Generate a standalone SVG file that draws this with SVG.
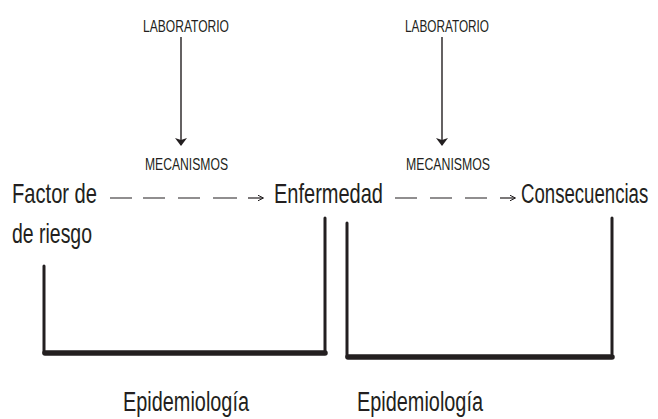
<svg xmlns="http://www.w3.org/2000/svg" width="658" height="419" viewBox="0 0 658 419">
<style>
text{font-family:"Liberation Sans",Arial,sans-serif;fill:#231f20}
.sm{font-size:16.5px}
.lg{font-size:28px}
.ep{font-size:27px}
.dash{stroke:#231f20;stroke-width:1.2;fill:none}
.arr{stroke:#231f20;stroke-width:1.4;fill:none}
.thin{stroke:#231f20;stroke-width:3;fill:none;stroke-linecap:round}
.thick{stroke:#231f20;stroke-width:5.5;fill:none;stroke-linecap:round}
</style>
<defs>
<marker id="ah" markerWidth="8" markerHeight="12" refX="7" refY="6" orient="auto" markerUnits="userSpaceOnUse">
<path d="M0,0 L8,6 L0,12 L2,6 Z" fill="#231f20"/>
</marker>
<marker id="sh" markerWidth="6" markerHeight="6" refX="5.5" refY="3" orient="auto" markerUnits="userSpaceOnUse">
<path d="M0,0 L6,3 L0,6" fill="none" stroke="#231f20" stroke-width="1"/>
</marker>
</defs>
<g id="lab1"><text class="sm" x="143" y="32" textLength="86" lengthAdjust="spacingAndGlyphs">LABORATORIO</text></g>
<g id="lab2"><text class="sm" x="405" y="32" textLength="84" lengthAdjust="spacingAndGlyphs">LABORATORIO</text></g>
<g id="mec1"><text class="sm" x="145" y="170" textLength="83" lengthAdjust="spacingAndGlyphs">MECANISMOS</text></g>
<g id="mec2"><text class="sm" x="406" y="170" textLength="84" lengthAdjust="spacingAndGlyphs">MECANISMOS</text></g>
<g id="factor"><text class="lg" x="12" y="203" textLength="85" lengthAdjust="spacingAndGlyphs">Factor de</text><text class="lg" x="12" y="243" textLength="80" lengthAdjust="spacingAndGlyphs">de riesgo</text></g>
<g id="enfermedad"><text class="lg" x="274" y="203" textLength="109" lengthAdjust="spacingAndGlyphs">Enfermedad</text></g>
<g id="consecuencias"><text class="lg" transform="translate(521,203) scale(0.665,1)" x="0" y="0">Consecuencias</text></g>
<g id="epi1"><text class="ep" x="123" y="411" textLength="126" lengthAdjust="spacingAndGlyphs">Epidemiología</text></g>
<g id="epi2"><text class="ep" x="357" y="411" textLength="126" lengthAdjust="spacingAndGlyphs">Epidemiología</text></g>
<g id="connectors">
<line class="arr" x1="181" y1="37" x2="181" y2="145" marker-end="url(#ah)"/>
<line class="arr" x1="442" y1="37" x2="442" y2="145" marker-end="url(#ah)"/>
<path class="dash" d="M110,198H132M143,198H165M178,198H200M213,198H237"/>
<line class="dash" x1="248" y1="198" x2="263" y2="198" marker-end="url(#sh)"/>
<path class="dash" d="M395,198H417M430,198H452M465,198H487"/>
<line class="dash" x1="500" y1="198" x2="515" y2="198" marker-end="url(#sh)"/>
<path class="thin" d="M44,266V353M325,218V353M347,223V357M612,218V354"/>
<path class="thick" d="M45,353H325M348,357H612"/>
</g>
</svg>
